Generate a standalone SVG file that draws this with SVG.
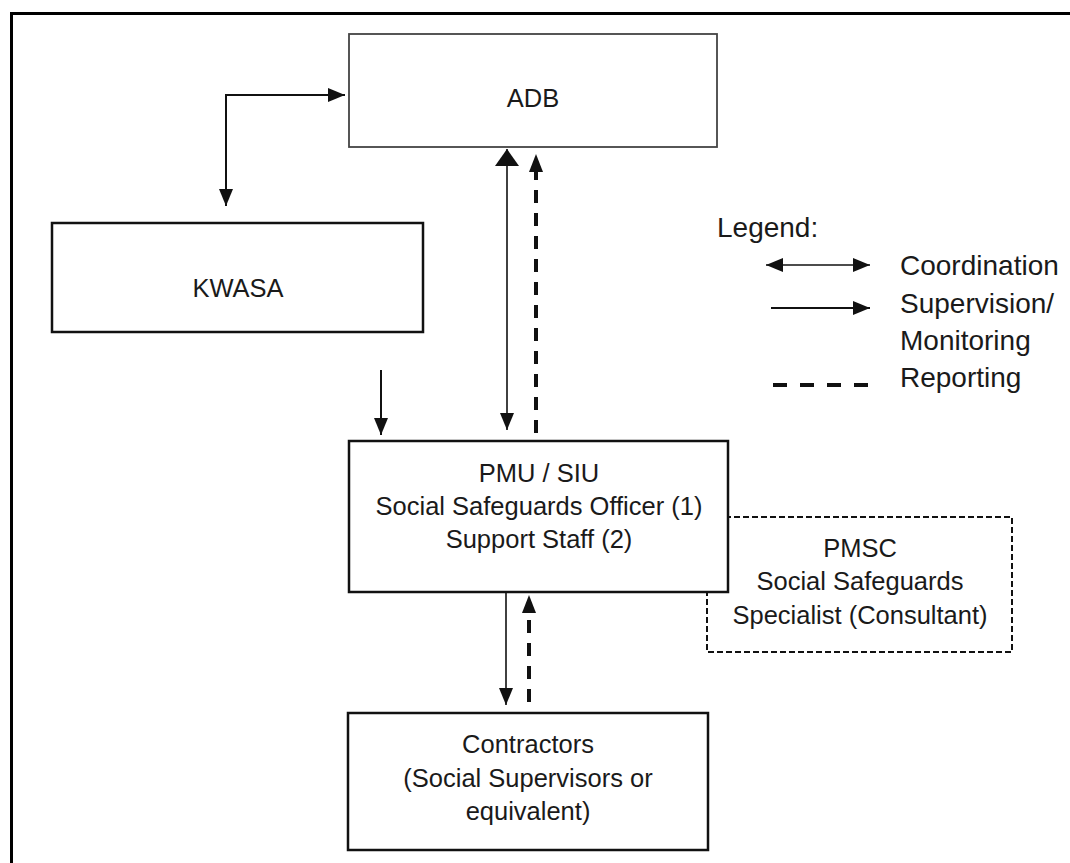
<svg xmlns="http://www.w3.org/2000/svg" width="1070" height="863" viewBox="0 0 1070 863">
<style>
  .box { fill: #ffffff; stroke: #111; stroke-width: 2.5; }
  .light { stroke: #444; stroke-width: 1.8; }
  .dbox { fill: #ffffff; stroke: #111; stroke-width: 2; stroke-dasharray: 6 3; }
  .t { font-family: "Liberation Sans", Arial, sans-serif; font-size: 25.5px; fill: #1a1a1a; text-anchor: middle; }
  .lg { font-family: "Liberation Sans", Arial, sans-serif; font-size: 28px; fill: #1a1a1a; }
  .sol { fill: none; stroke: #111; stroke-width: 2; }
  .thin { fill: none; stroke: #111; stroke-width: 1.6; }
  .dash { fill: none; stroke: #111; stroke-width: 4; stroke-dasharray: 13 10; }
  .ldash { fill: none; stroke: #111; stroke-width: 4; stroke-dasharray: 14 13; }
</style>
<defs>
  <marker id="ah" viewBox="0 0 17 14" refX="17" refY="7" markerWidth="17" markerHeight="14" markerUnits="userSpaceOnUse" orient="auto">
    <path d="M0,0 L17,7 L0,14 z" fill="#111"/>
  </marker>
  <marker id="ahs" viewBox="0 0 17 14" refX="0" refY="7" markerWidth="17" markerHeight="14" markerUnits="userSpaceOnUse" orient="auto">
    <path d="M17,0 L0,7 L17,14 z" fill="#111"/>
  </marker>
  <marker id="ahbig" viewBox="0 0 17 24" refX="0" refY="12" markerWidth="17" markerHeight="24" markerUnits="userSpaceOnUse" orient="auto">
    <path d="M17,0 L0,12 L17,24 z" fill="#111"/>
  </marker>
  <marker id="ahb" viewBox="0 0 18 14" refX="0" refY="7" markerWidth="18" markerHeight="14" markerUnits="userSpaceOnUse" orient="auto">
    <path d="M0,0 L18,7 L0,14 z" fill="#111"/>
  </marker>
</defs>
<rect x="0" y="0" width="1070" height="863" fill="#ffffff"/>
<path d="M11.5,863 V13.5 H1070" fill="none" stroke="#000" stroke-width="3"/>

<g id="pmsc">
  <rect class="dbox" x="707" y="517" width="305" height="135"/>
  <text class="t" x="860" y="557">PMSC</text>
  <text class="t" x="860" y="590">Social Safeguards</text>
  <text class="t" x="860" y="624">Specialist (Consultant)</text>
</g>
<g id="adb">
  <rect class="box light" x="349" y="34" width="368" height="113"/>
  <text class="t" x="533" y="107">ADB</text>
</g>
<g id="kwasa">
  <rect class="box" x="52" y="223" width="371" height="109"/>
  <text class="t" x="238" y="297">KWASA</text>
</g>
<g id="pmu">
  <rect class="box" x="349" y="441" width="379" height="151"/>
  <text class="t" x="539" y="482">PMU / SIU</text>
  <text class="t" x="539" y="515">Social Safeguards Officer (1)</text>
  <text class="t" x="539" y="548">Support Staff (2)</text>
</g>
<g id="contractors">
  <rect class="box" x="348" y="713" width="360" height="137"/>
  <text class="t" x="528" y="753">Contractors</text>
  <text class="t" x="528" y="787">(Social Supervisors or</text>
  <text class="t" x="528" y="820">equivalent)</text>
</g>

<g id="connectors">
  <path class="sol" d="M226,206 V95 H345" marker-start="url(#ahs)" marker-end="url(#ah)"/>
  <path class="sol" d="M381,370 V435" marker-end="url(#ah)"/>
  <path class="thin" d="M507,149 V430" marker-start="url(#ahbig)" marker-end="url(#ah)"/>
  <path class="dash" d="M536,433 V172" marker-end="url(#ahb)"/>
  <path class="thin" d="M506,592 V705" marker-end="url(#ah)"/>
  <path class="dash" d="M529,702 V613" marker-end="url(#ahb)"/>
</g>

<g id="legend">
  <text class="lg" x="717" y="237">Legend:</text>
  <path class="thin" d="M766,265 H870" marker-start="url(#ahs)" marker-end="url(#ah)"/>
  <text class="lg" x="900" y="275">Coordination</text>
  <path class="sol" d="M771,308 H870" marker-end="url(#ah)"/>
  <text class="lg" x="900" y="313">Supervision/</text>
  <text class="lg" x="900" y="350">Monitoring</text>
  <path class="ldash" d="M773,385 H870"/>
  <text class="lg" x="900" y="387">Reporting</text>
</g>
</svg>
